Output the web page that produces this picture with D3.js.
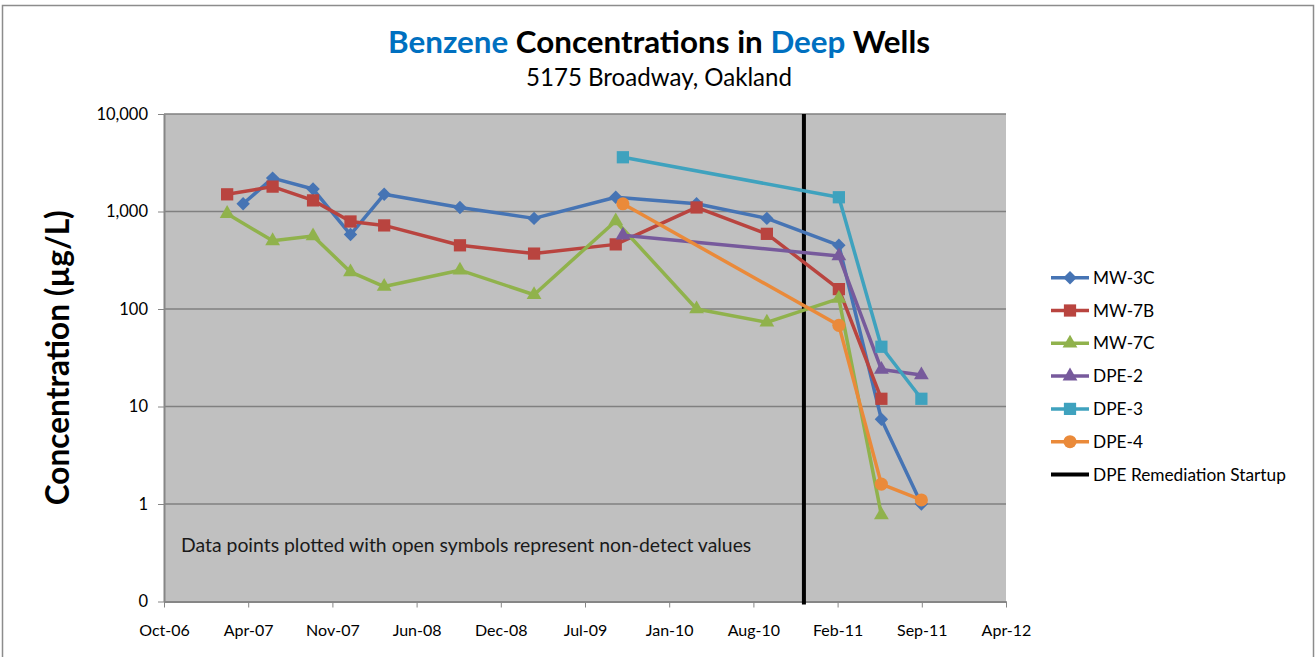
<!DOCTYPE html>
<html>
<head>
<meta charset="utf-8">
<script src="https://cdn.jsdelivr.net/npm/d3@7"></script>
<style>
  body { margin: 0; background: #fff; }
  svg { display: block; font-family: Lato, "Open Sans", sans-serif; }
</style>
</head>
<body>
<div id="chart"></div>
<script>
// Sample values: [date, benzene ug/L]
const mw3c = [["2007-04-16", 1200], ["2007-06-25", 2200], ["2007-09-29", 1700], ["2007-12-27", 580],
  ["2008-03-16", 1500], ["2008-09-12", 1100], ["2009-03-07", 850], ["2009-09-17", 1400],
  ["2010-03-28", 1200], ["2010-09-11", 850], ["2011-03-01", 450], ["2011-06-10", 7.4], ["2011-09-13", 1.0]];
const mw7b = [["2007-03-09", 1500], ["2007-06-25", 1800], ["2007-09-29", 1300], ["2007-12-27", 790],
  ["2008-03-16", 720], ["2008-09-12", 450], ["2009-03-07", 370], ["2009-09-17", 460],
  ["2010-03-28", 1100], ["2010-09-11", 590], ["2011-03-01", 160], ["2011-06-10", 12]];
const mw7c = [["2007-03-09", 950], ["2007-06-25", 500], ["2007-09-29", 560], ["2007-12-27", 240],
  ["2008-03-16", 170], ["2008-09-12", 250], ["2009-03-07", 140], ["2009-09-17", 800],
  ["2010-03-28", 100], ["2010-09-11", 73], ["2011-03-01", 128], ["2011-06-10", 0.77]];
const dpe2 = [["2009-10-04", 570], ["2011-03-01", 350], ["2011-06-10", 24], ["2011-09-13", 21]];
const dpe3 = [["2009-10-04", 3600], ["2011-03-01", 1400], ["2011-06-10", 41], ["2011-09-13", 12]];
const dpe4 = [["2009-10-04", 1200], ["2011-03-01", 68], ["2011-06-10", 1.6], ["2011-09-13", 1.1]];
const startupDate = "2010-12-08";

const seriesNames = ["MW-3C", "MW-7B", "MW-7C", "DPE-2", "DPE-3", "DPE-4"];
const seriesData = [mw3c, mw7b, mw7c, dpe2, dpe3, dpe4];
const yTicks = [0.1, 1, 10, 100, 1000, 10000];
const xStartDate = "2006-10-10";   // axis min (Excel serial 39000)
const xTickStepDays = 200;
const xTickCount = 11;

// Styling
const colors = ["#4674B4", "#B9443F", "#90B24C", "#775A9C", "#3FA2BE", "#EA8A3A"];
const shapes = ["diamond", "square", "triangle", "triangle", "square", "circle"];

const width = 1315, height = 657;
const plot = {left: 164, right: 1006, top: 114, bottom: 601.5};

const svg = d3.select("#chart").append("svg")
  .attr("width", width)
  .attr("height", height);

// chart frame
svg.append("rect")
  .attr("x", 2.5).attr("y", 5.5)
  .attr("width", 1311).attr("height", 700)
  .attr("fill", "#fff")
  .attr("stroke", "#8c8c8c")
  .attr("stroke-width", 1.5);

const parse = d3.utcParse("%Y-%m-%d");
const xStart = parse(xStartDate);
const xTickVals = d3.range(xTickCount).map(i => d3.utcDay.offset(xStart, i * xTickStepDays));

const x = d3.scaleUtc()
  .domain([xTickVals[0], xTickVals[xTickVals.length - 1]])
  .range([plot.left, plot.right]);

const y = d3.scaleLog()
  .domain([yTicks[0], yTicks[yTicks.length - 1]])
  .range([plot.bottom, plot.top]);

// plot background
svg.append("rect")
  .attr("x", plot.left).attr("y", plot.top)
  .attr("width", plot.right - plot.left)
  .attr("height", plot.bottom - plot.top)
  .attr("fill", "#c0c0c0");

// gridlines
svg.append("g")
  .selectAll("line")
  .data(yTicks.slice(1))
  .join("line")
    .attr("x1", plot.left).attr("x2", plot.right)
    .attr("y1", d => y(d)).attr("y2", d => y(d))
    .attr("stroke", "#808080")
    .attr("stroke-width", 1.5);

// y axis
const yAxis = svg.append("g")
  .attr("transform", `translate(${plot.left},0)`)
  .call(d3.axisLeft(y)
    .tickValues(yTicks)
    .tickFormat(d => d < 1 ? "0" : d3.format(",")(d))
    .tickSize(6)
    .tickSizeOuter(0)
    .tickPadding(10));
yAxis.select(".domain").attr("stroke", "#868686").attr("stroke-width", 2);
yAxis.selectAll(".tick line").attr("stroke", "#868686").attr("stroke-width", 1);
yAxis.selectAll("text")
  .style("font-family", "Lato, sans-serif")
  .style("font-size", "16.5px")
  .attr("fill", "#000");

// x axis
const xAxis = svg.append("g")
  .attr("transform", `translate(0,${plot.bottom})`)
  .call(d3.axisBottom(x)
    .tickValues(xTickVals)
    .tickFormat(d3.utcFormat("%b-%y"))
    .tickSize(6)
    .tickSizeOuter(0)
    .tickPadding(17));
xAxis.select(".domain").attr("stroke", "#868686").attr("stroke-width", 2);
xAxis.selectAll(".tick line").attr("stroke", "#868686").attr("stroke-width", 1);
xAxis.selectAll("text")
  .style("font-family", "Lato, sans-serif")
  .style("font-size", "16px")
  .attr("fill", "#000");

// remediation startup line
svg.append("line")
  .attr("x1", x(parse(startupDate))).attr("x2", x(parse(startupDate)))
  .attr("y1", plot.top).attr("y2", plot.bottom + 3)
  .attr("stroke", "#000")
  .attr("stroke-width", 4);

// marker paths
function markerPath(shape) {
  if (shape === "diamond") return d3.symbol(d3.symbolSquare, 90)();
  if (shape === "square") return d3.symbol(d3.symbolSquare, 150)();
  if (shape === "triangle") return d3.symbol(d3.symbolTriangle, 95)();
  return d3.symbol(d3.symbolCircle, 135)();
}
function markerTransform(shape, px, py) {
  return shape === "diamond"
    ? `translate(${px},${py}) rotate(45)`
    : `translate(${px},${py})`;
}

const line = d3.line()
  .x(d => x(parse(d[0])))
  .y(d => y(d[1]));

seriesData.forEach((data, i) => {
  const g = svg.append("g");
  g.append("path")
    .datum(data)
    .attr("fill", "none")
    .attr("stroke", colors[i])
    .attr("stroke-width", 3.5)
    .attr("stroke-linejoin", "round")
    .attr("d", line);
  g.selectAll("path.marker")
    .data(data)
    .join("path")
      .attr("class", "marker")
      .attr("d", markerPath(shapes[i]))
      .attr("transform", d => markerTransform(shapes[i], x(parse(d[0])), y(d[1])))
      .attr("fill", colors[i]);
});

// helper: scale font size so text spans the width seen in the reference
function fitWidth(sel, target) {
  const w = sel.node().getComputedTextLength();
  const fs = parseFloat(sel.style("font-size"));
  sel.style("font-size", (fs * target / w) + "px");
  return fs * target / w;
}

// annotation
const note = svg.append("text")
  .attr("x", 181)
  .attr("y", 552)
  .style("font-size", "16px")
  .attr("fill", "#1a1a1a")
  .text("Data points plotted with open symbols represent non-detect values");
fitWidth(note, 571);

// title
const title = svg.append("text")
  .attr("x", 659)
  .attr("y", 53)
  .attr("text-anchor", "middle")
  .style("font-size", "24px")
  .style("font-weight", "bold");
title.append("tspan").attr("fill", "#0070C0").text("Benzene");
title.append("tspan").attr("fill", "#000").text(" Concentrations in ");
title.append("tspan").attr("fill", "#0070C0").text("Deep");
title.append("tspan").attr("fill", "#000").text(" Wells");
fitWidth(title, 542);

const subtitle = svg.append("text")
  .attr("x", 659)
  .attr("y", 86)
  .attr("text-anchor", "middle")
  .style("font-size", "20px")
  .text("5175 Broadway, Oakland");
fitWidth(subtitle, 266);

// y axis title
const yTitle = svg.append("text")
  .attr("transform", `translate(69,${(plot.top + plot.bottom) / 2}) rotate(-90)`)
  .attr("text-anchor", "middle")
  .style("font-size", "24px")
  .style("font-weight", "bold")
  .text("Concentration (\u00b5g/L)");
fitWidth(yTitle, 295);

// legend
const legendNames = seriesNames.concat(["DPE Remediation Startup"]);
const legend = svg.append("g");
const legendTexts = [];
legendNames.forEach((name, i) => {
  const ly = 277.7 + i * 32.8;
  const isStartup = i === seriesNames.length;
  legend.append("line")
    .attr("x1", 1051).attr("x2", 1089)
    .attr("y1", ly).attr("y2", ly)
    .attr("stroke", isStartup ? "#000" : colors[i])
    .attr("stroke-width", isStartup ? 4 : 3.5);
  if (!isStartup) {
    legend.append("path")
      .attr("d", markerPath(shapes[i]))
      .attr("transform", markerTransform(shapes[i], 1070, ly))
      .attr("fill", colors[i]);
  }
  legendTexts.push(legend.append("text")
    .attr("x", 1093)
    .attr("y", ly)
    .attr("dy", "0.35em")
    .style("font-size", "16px")
    .text(name));
});
// size all legend labels from the longest one
const legendSize = fitWidth(legendTexts[legendTexts.length - 1], 193);
legendTexts.forEach(t => t.style("font-size", legendSize + "px"));
</script>
</body>
</html>
